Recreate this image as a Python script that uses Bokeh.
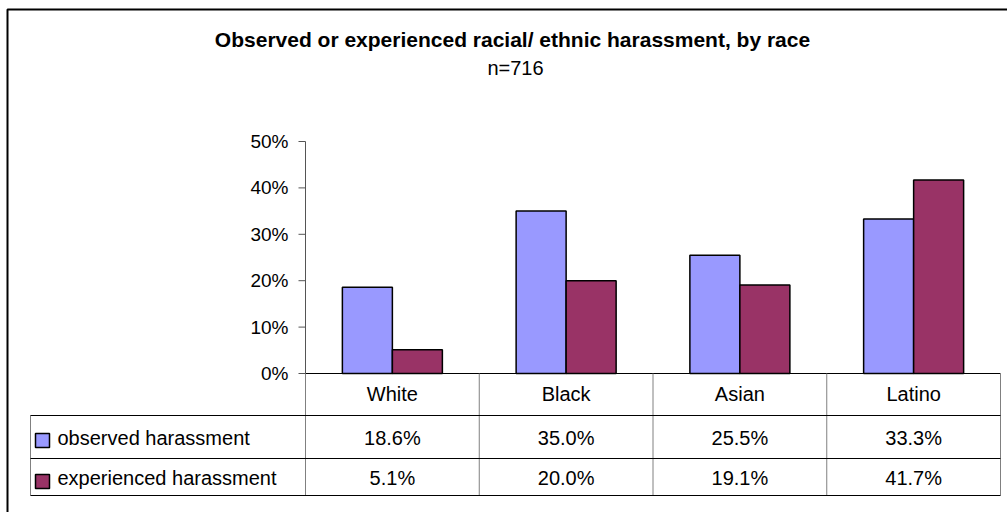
from bokeh.plotting import figure
from bokeh.models import ColumnDataSource, Range1d
from bokeh.transform import dodge
from bokeh.core.properties import value
from bokeh.embed import file_html
from bokeh.resources import INLINE

# ---------------- data ----------------
title_text = "Observed or experienced racial/ ethnic harassment, by race"
subtitle_text = "n=716"
categories = ["White", "Black", "Asian", "Latino"]
series_names = ["observed harassment", "experienced harassment"]
observed = [18.6, 35.0, 25.5, 33.3]
experienced = [5.1, 20.0, 19.1, 41.7]
y_ticks = [0, 10, 20, 30, 40, 50]

# ---------------- style / layout ----------------
COLORS = ["#9999FF", "#993366"]
FONT = "Liberation Sans"
W, H = 1007, 512
X0PX, CATW = 305.0, 173.75                # pixel of x=0, pixels per category
Y0PX, PPU = 373.0, 464.0                  # pixel of y=0, pixels per 100%


def dx(px):
    return (px - X0PX) / CATW


def dy(py):
    return (Y0PX - py) / PPU


p = figure(width=W, height=H, output_backend="svg", toolbar_location=None,
           x_range=Range1d(dx(0), dx(W)), y_range=Range1d(dy(H), dy(0)),
           x_axis_location=None, y_axis_location=None,
           min_border=0)
p.outline_line_color = None
p.grid.visible = False
p.background_fill_color = "white"
p.border_fill_color = "white"

n = len(categories)
AX = "#555555"

# ---- y axis (drawn through the data scale) ----
ysrc = ColumnDataSource(dict(
    y=[t / 100 for t in y_ticks],
    lab=[f"{t}%" for t in y_ticks],
))
p.segment(x0=[0], y0=[0], x1=[0], y1=[max(y_ticks) / 100], line_color=AX, line_width=1)
p.segment(x0=dx(298), y0="y", x1=0, y1="y", source=ysrc, line_color=AX, line_width=1)
p.text(x=dx(288), y="y", text="lab", source=ysrc, text_font=value(FONT),
       text_font_size="19px", text_align="right", text_baseline="middle",
       text_color="black")

# ---- bars ----
src = ColumnDataSource(dict(
    x=[i + 0.5 for i in range(n)],
    obs=[v / 100 for v in observed],
    exp=[v / 100 for v in experienced],
    cat=categories,
    obs_s=[f"{v:.1f}%" for v in observed],
    exp_s=[f"{v:.1f}%" for v in experienced],
))
bw = 50 / CATW
p.vbar(x=dodge("x", -bw / 2, range=p.x_range), top="obs", bottom=0, width=bw, source=src,
       fill_color=COLORS[0], line_color="black", line_width=1.5)
p.vbar(x=dodge("x", bw / 2, range=p.x_range), top="exp", bottom=0, width=bw, source=src,
       fill_color=COLORS[1], line_color="black", line_width=1.5)

# baseline (x axis line)
p.segment(x0=[0], y0=[0], x1=[n], y1=[0], line_color="black", line_width=1)

# ---- data table ----
p.segment(x0=list(range(n + 1)), y0=[0] * (n + 1), x1=list(range(n + 1)),
          y1=[dy(495)] * (n + 1), line_color="#808080", line_width=1)
p.segment(x0=[dx(30)], y0=[dy(415)], x1=[dx(30)], y1=[dy(495)],
          line_color="#808080", line_width=1)
hl = [dy(415), dy(458), dy(495)]
p.segment(x0=[dx(30)] * 3, y0=hl, x1=[n] * 3, y1=hl, line_color="black", line_width=1)

txt_kw = dict(text_font=value(FONT), text_font_size="20px", text_align="center",
              text_baseline="middle", text_color="black")
p.text(x="x", y=dy(393), text="cat", source=src, **txt_kw)
p.text(x="x", y=dy(437), text="obs_s", source=src, **txt_kw)
p.text(x="x", y=dy(477), text="exp_s", source=src, **txt_kw)

# legend keys + names
lsrc = ColumnDataSource(dict(
    name=series_names,
    color=COLORS,
    ty=[dy(437), dy(477)],
    sy=[dy(440), dy(481)],
))
p.rect(x=dx(42), y="sy", width=14 / CATW, height=14 / PPU, source=lsrc,
       fill_color="color", line_color="black", line_width=1.5)
p.text(x=dx(57), y="ty", text="name", source=lsrc, text_font=value(FONT),
       text_font_size="20px", text_align="left", text_baseline="middle",
       text_color="black")

# ---- titles ----
p.text(x=[dx(512)], y=[dy(39)], text=[title_text], text_font=value(FONT),
       text_font_size="21px", text_font_style="bold", text_align="center",
       text_baseline="middle", text_color="black")
p.text(x=[dx(515)], y=[dy(67)], text=[subtitle_text], text_font=value(FONT),
       text_font_size="20px", text_align="center", text_baseline="middle",
       text_color="black")

# ---- outer chart border (left and top edges visible) ----
p.multi_line(xs=[[dx(7), dx(7), dx(W + 10)]], ys=[[dy(H + 10), dy(9), dy(9)]],
             line_color="black", line_width=2)

open("out.html", "w").write(file_html(p, INLINE))
